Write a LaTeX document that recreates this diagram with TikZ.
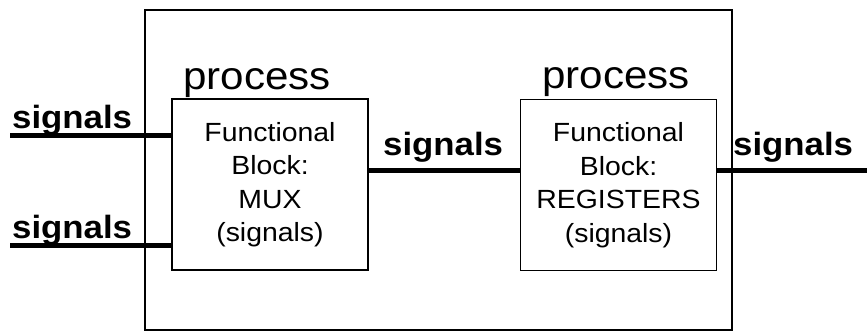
\documentclass[tikz,border=0pt]{standalone}
\usepackage{fontspec}
\newfontfamily\hv[FakeStretch=1.08]{Liberation Sans}
\begin{document}
\begin{tikzpicture}[x=1pt,y=-1pt,
  outerbox/.style={draw=black,line width=2.6pt},
  fbox/.style={draw=black,line width=1.5pt,inner sep=0pt,
    minimum width=196pt,minimum height=171pt,align=center,
    font=\hv\fontsize{26.3}{33.5}\selectfont},
  sig/.style={line width=5pt},
  siglabel/.style={anchor=base west,inner sep=0pt,
    font=\hv\bfseries\fontsize{32.2}{36}\selectfont},
  proclabel/.style={anchor=base west,inner sep=0pt,
    font=\hv\fontsize{39}{42}\selectfont}]
\useasboundingbox (0,0) rectangle (867,332);
% outer process box
\draw[outerbox] (145,10) rectangle (732,330);
% functional blocks
\node[fbox] (mux) at (270,184.5) {Functional\\Block:\\MUX\\(signals)};
\node[fbox] (reg) at (618.5,185) {Functional\\Block:\\REGISTERS\\(signals)};
% process labels
\node[proclabel] (p1) at (183,89) {process};
\node[proclabel] (p2) at (542,88) {process};
% signal end points
\coordinate (in1) at (10,135);
\coordinate (in2) at (10,245);
\coordinate (out) at (867,170);
% connectors
\draw[sig] (in1) -- (mux.west |- in1);
\draw[sig] (in2) -- (mux.west |- in2);
\draw[sig] (mux.east |- 0,170) -- (reg.west |- 0,170);
\draw[sig] (reg.east |- out) -- (out);
% signal labels
\node[siglabel] (s1) at (12,128) {signals};
\node[siglabel] (s2) at (12,238) {signals};
\node[siglabel] (s3) at (383,155) {signals};
\node[siglabel] (s4) at (733,155) {signals};
\end{tikzpicture}
\end{document}
